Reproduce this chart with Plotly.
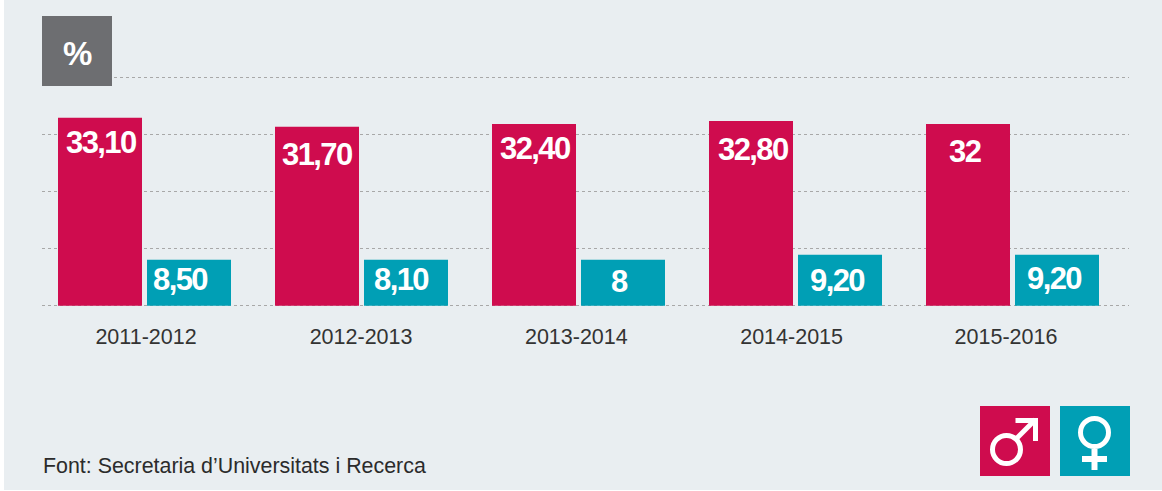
import plotly.graph_objects as go

W, H = 1162, 491

periods = ["2011-2012", "2012-2013", "2013-2014", "2014-2015", "2015-2016"]
men_heights = [33.0, 31.4, 31.9, 32.4, 31.9]
women_heights = [8.1, 8.1, 8.1, 8.95, 8.95]
men_labels = ["33,10", "31,70", "32,40", "32,80", "32"]
women_labels = ["8,50", "8,10", "8", "9,20", "9,20"]

RED, TEAL, GREY, BG = "#cf0c4e", "#009fb5", "#6d6e71", "#e9eef1"
LIGHT = "Liberation Sans, Arial, sans-serif"

px = lambda x: x / W
py = lambda y: 1 - y / H

STEP = 217.0
CENTER0 = 144.5
L, R = 42.0, 1129.0
UNIT = 5.7
PAD = 0.4
BASE = 305.8
TOP, BOTTOM = BASE - (40 + PAD) * UNIT, BASE + PAD * UNIT
SLOT = 89.0

x_idx = list(range(len(periods)))
tick_pos = [0.007, 0.998, 1.99, 2.982, 3.97]

fig = go.Figure()
fig.add_bar(x=x_idx, y=men_heights, marker_color=RED, marker_line_width=0, name="Homes")
fig.add_bar(x=x_idx, y=women_heights, marker_color=TEAL, marker_line_width=0, name="Dones")

men_dx = [1, 0, 1, 2, -3]
men_dy = [25, 28, 25, 28, 28]
women_dx = [-9, -5, -4, -3, -3]
women_dy = [20, 20, 22, 26, 24]
half = SLOT / 2 / STEP
label_font = dict(family=LIGHT, size=31, color="white", weight=700)


def tight(s):
    return f'<span style="letter-spacing:-1.6px">{s}</span>'


annotations = []
for i in x_idx:
    annotations.append(dict(x=i - half, y=men_heights[i], text=tight(men_labels[i]), xref="x", yref="y",
                            showarrow=False, xshift=men_dx[i], yshift=-men_dy[i], font=label_font))
    annotations.append(dict(x=i + half, y=women_heights[i], text=tight(women_labels[i]), xref="x", yref="y",
                            showarrow=False, xshift=women_dx[i], yshift=-women_dy[i], font=label_font))
annotations.append(dict(x=px(77), y=py(53), xref="paper", yref="paper", xanchor="center", yanchor="middle",
                        text="<b>%</b>", showarrow=False, font=dict(family=LIGHT, size=33, color="white")))
annotations.append(dict(x=px(41), y=py(466), xref="paper", yref="paper", xanchor="left", yanchor="middle",
                        text="Font: Secretaria d’Universitats i Recerca", showarrow=False,
                        font=dict(family=LIGHT, size=21.4, color="#2b2b2b")))


def rect(x0, y0, x1, y1, color, layer="above"):
    return dict(type="rect", xref="paper", yref="paper", x0=px(x0), x1=px(x1), y0=py(y0), y1=py(y1),
                fillcolor=color, line_width=0, layer=layer)


def ring(x0, y0, x1, y1, width=5):
    return dict(type="circle", xref="paper", yref="paper", x0=px(x0), x1=px(x1), y0=py(y0), y1=py(y1),
                line=dict(color="white", width=width), fillcolor="rgba(0,0,0,0)", layer="above")


def stroke(x0, y0, x1, y1, width=5):
    return dict(type="line", xref="paper", yref="paper", x0=px(x0), x1=px(x1), y0=py(y0), y1=py(y1),
                line=dict(color="white", width=width), layer="above")


shapes = [
    rect(4, 0, W, 490, BG, "below"),
    rect(42, 16, 112, 86, GREY),
    rect(980, 406, 1050, 476, RED),
    rect(1060, 406, 1130, 476, TEAL),
    ring(992.5, 435.5, 1020.5, 463.5),
    stroke(1016, 439, 1035.5, 419.5),
    stroke(1015.5, 420.5, 1038, 420.5),
    stroke(1035.5, 418, 1035.5, 441),
    ring(1080.5, 418.5, 1108.5, 446.5),
    stroke(1094.5, 449, 1094.5, 470, 6),
    stroke(1082, 459, 1107, 459, 6),
]

fig.update_layout(
    width=W, height=H, margin=dict(l=0, r=0, t=0, b=0), autosize=False,
    paper_bgcolor="white", plot_bgcolor="rgba(0,0,0,0)",
    showlegend=False, barmode="group",
    bargap=1 - 2 * SLOT / STEP, bargroupgap=5 / SLOT,
    annotations=annotations, shapes=shapes,
    xaxis=dict(domain=[px(L), px(R)], range=[(L - CENTER0) / STEP, (R - CENTER0) / STEP],
               tickmode="array", tickvals=tick_pos, ticktext=periods, ticks="outside", ticklen=9,
               tickcolor="rgba(0,0,0,0)", showgrid=False, zeroline=False, showline=False,
               tickfont=dict(family=LIGHT, size=21.5, color="#333333")),
    yaxis=dict(domain=[py(BOTTOM), py(TOP)], range=[-PAD, 40 + PAD], tickvals=[0, 10, 20, 30, 40],
               showticklabels=False, ticks="", zeroline=False, showline=False,
               showgrid=True, gridcolor="#a8a8a8", griddash="dot", gridwidth=1),
)

fig.write_html("out.html", post_script="document.body.style.margin='0';document.body.style.overflow='hidden';", config={"displayModeBar": False})
